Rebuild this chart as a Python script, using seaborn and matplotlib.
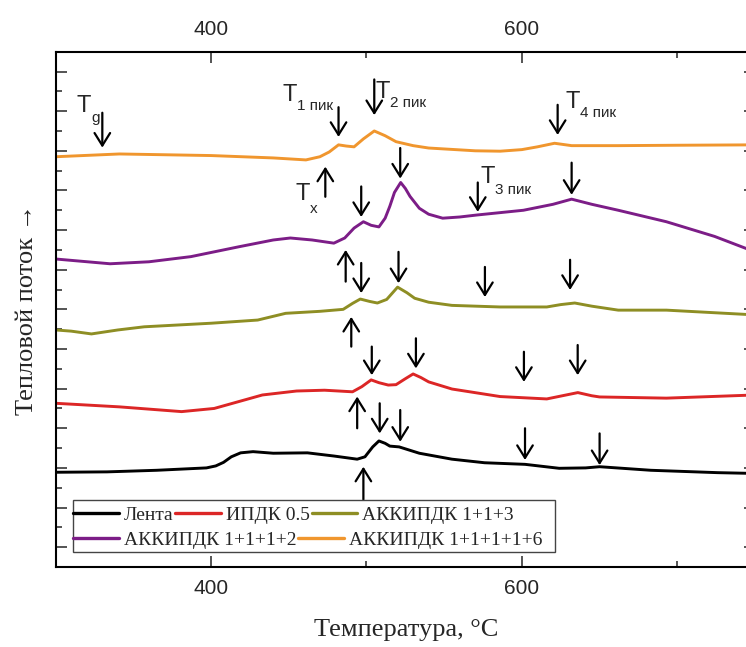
import matplotlib
matplotlib.use("Agg")
import matplotlib.pyplot as plt
import seaborn as sns
import numpy as np
from matplotlib.patches import Rectangle

# ---------------- data ----------------
x_black = [300, 333, 365, 397, 403, 408, 413, 419, 427, 440, 462, 479, 494, 499, 504, 508, 512, 515, 521, 534, 555, 576, 602, 624, 641, 650, 683, 726, 750]
y_black = [2.89, 2.90, 2.94, 3.00, 3.05, 3.14, 3.28, 3.38, 3.41, 3.37, 3.38, 3.30, 3.22, 3.28, 3.53, 3.68, 3.62, 3.55, 3.53, 3.37, 3.22, 3.13, 3.09, 2.99, 3.00, 3.03, 2.94, 2.88, 2.86]

x_red = [300, 341, 381, 402, 433, 455, 473, 491, 497, 503, 508, 514, 519, 525, 530, 535, 540, 555, 586, 616, 626, 636, 645, 650, 693, 750]
y_red = [4.63, 4.54, 4.42, 4.50, 4.84, 4.94, 4.96, 4.92, 5.05, 5.22, 5.15, 5.09, 5.10, 5.25, 5.37, 5.28, 5.17, 4.99, 4.80, 4.74, 4.82, 4.90, 4.82, 4.79, 4.76, 4.84]

x_olive = [300, 310, 323, 340, 357, 400, 430, 448, 470, 485, 491, 496, 502, 507, 513, 520, 526, 531, 540, 555, 586, 616, 625, 634, 645, 662, 693, 750]
y_olive = [6.48, 6.45, 6.38, 6.48, 6.56, 6.65, 6.73, 6.90, 6.95, 7.00, 7.15, 7.26, 7.20, 7.16, 7.25, 7.56, 7.42, 7.28, 7.18, 7.10, 7.06, 7.06, 7.12, 7.16, 7.08, 6.98, 6.98, 6.86]

x_purple = [300, 335, 360, 387, 418, 440, 451, 465, 479, 486, 492, 498, 503, 508, 512, 515, 518, 522, 525, 528, 534, 540, 549, 560, 571, 601, 620, 632, 645, 662, 693, 724, 750]
y_purple = [8.27, 8.15, 8.20, 8.33, 8.58, 8.75, 8.80, 8.75, 8.67, 8.80, 9.05, 9.21, 9.12, 9.08, 9.30, 9.60, 9.95, 10.20, 10.05, 9.85, 9.55, 9.40, 9.30, 9.33, 9.38, 9.50, 9.65, 9.78, 9.65, 9.50, 9.21, 8.84, 8.45]

x_orange = [300, 341, 400, 440, 461, 470, 476, 482, 487, 492, 498, 505, 512, 519, 530, 540, 570, 586, 600, 610, 621, 632, 662, 700, 750]
y_orange = [10.85, 10.92, 10.88, 10.82, 10.77, 10.85, 10.97, 11.15, 11.12, 11.10, 11.30, 11.50, 11.38, 11.23, 11.13, 11.07, 11.00, 10.99, 11.03, 11.10, 11.19, 11.13, 11.13, 11.14, 11.15]

series_names = ["Лента", "ИПДК 0.5", "АККИПДК 1+1+3", "АККИПДК 1+1+1+2", "АККИПДК 1+1+1+1+6"]
series_colors = ["#000000", "#DC2626", "#8E8E24", "#7C1D87", "#F0962E"]

# arrows: x, tail y, head y
arrow_x = [330, 482, 505, 623,
           521.7, 496.6, 571.6, 632,
           496.6, 520.6, 576.2, 631,
           503.4, 531.8, 601.3, 635.9,
           508.5, 521.7, 602, 650,
           473.5, 486.6, 490.2, 494, 498]
arrow_tail = [11.96, 12.10, 12.80, 12.16,
              11.07, 10.10, 10.20, 10.70,
              8.17, 8.45, 8.07, 8.25,
              6.06, 6.27, 5.93, 6.10,
              4.63, 4.46, 4.00, 3.87,
              9.84, 7.70, 6.06, 4.00, 2.20]
arrow_head = [11.08, 11.35, 11.90, 11.40,
              10.30, 9.33, 9.46, 9.89,
              7.41, 7.66, 7.31, 7.49,
              5.34, 5.51, 5.17, 5.34,
              3.87, 3.66, 3.20, 3.07,
              10.60, 8.50, 6.81, 4.80, 3.03]

# labels: T + subscript
label_x = [313.5, 445.9, 505.7, 627.8, 573.1, 454.2]
label_y = [11.99, 12.25, 12.33, 12.07, 10.18, 9.76]
label_sub = ["g", "1 пик", "2 пик", "4 пик", "3 пик", "x"]
label_sub_drop = [10, 9, 9, 9, 11, 13]

x_ticks = [400, 600]
x_minor = [500, 700]

# ---------------- figure ----------------
sns.set_style("ticks")
plt.rcParams["font.family"] = ["Liberation Serif", "DejaVu Serif"]

W, H = 746, 647
fig = plt.figure(figsize=(W / 100, H / 100), dpi=100)
left_px, right_px, top_px, bottom_px = 55.7, 755, 51.7, 567
ax = fig.add_axes([left_px / W, (H - bottom_px) / H, (right_px - left_px) / W, (bottom_px - top_px) / H])

xs = [x_black, x_red, x_olive, x_purple, x_orange]
ys = [y_black, y_red, y_olive, y_purple, y_orange]
for xv, yv, name, col in zip(xs, ys, series_names, series_colors):
    sns.lineplot(x=xv, y=yv, color=col, lw=2.1, ax=ax, label=name, estimator=None, sort=False)

if ax.get_legend() is not None:
    ax.get_legend().remove()

ax.set_xlim(300, 750)
ax.set_ylim(0.5, 13.5)

# ticks
ax.set_xticks(x_ticks)
ax.set_xticks(x_minor, minor=True)
ax.set_yticks(np.arange(1, 14))
ax.set_yticks(np.arange(1.5, 13.5, 1.0), minor=True)
ax.set_yticklabels([])
ax.tick_params(axis="both", which="major", direction="in", length=8, width=1.1,
               top=True, right=True, bottom=True, left=True)
ax.tick_params(axis="both", which="minor", direction="in", length=4.5, width=1.1,
               top=True, right=True, bottom=True, left=True)
ax.tick_params(axis="x", which="major", labeltop=True, labelbottom=True, pad=9,
               labelsize=15)
for t in ax.xaxis.get_major_ticks():
    t.label1.set_family(["Liberation Sans", "DejaVu Sans"])
    t.label2.set_family(["Liberation Sans", "DejaVu Sans"])
for sp in ax.spines.values():
    sp.set_linewidth(1.5)
    sp.set_color("black")

# axis labels
ax.set_xlabel("Температура, °C", fontsize=19, family=["Liberation Serif", "DejaVu Serif"], va="top")
ax.xaxis.set_label_coords(0.501, -0.101)
ax.set_ylabel("Тепловой поток →", fontsize=19, family=["Liberation Serif", "DejaVu Serif"])
ax.yaxis.set_label_coords(-0.026, 0.5)

# arrows
for xa, yt, yh in zip(arrow_x, arrow_tail, arrow_head):
    ax.annotate("", xy=(xa, yh), xytext=(xa, yt),
                arrowprops=dict(arrowstyle="->,head_length=0.45,head_width=0.28",
                                lw=1.6, color="black", shrinkA=0, shrinkB=0,
                                mutation_scale=20))

# labels
for lx, ly, sub, drop in zip(label_x, label_y, label_sub, label_sub_drop):
    ax.text(lx, ly, "T", fontsize=17, family=["Liberation Sans", "DejaVu Sans"],
            ha="left", va="baseline")
    ax.annotate(sub, xy=(lx, ly), xytext=(15, -drop), textcoords="offset pixels",
                fontsize=11, family=["Liberation Sans", "DejaVu Sans"],
                ha="left", va="baseline")

# legend (two rows drawn as two legends inside a frame)
handles = ax.get_lines()[:5]
leg_kw = dict(frameon=False, handlelength=2.35, handletextpad=0.25,
              columnspacing=0.1, borderpad=0, borderaxespad=0,
              prop={"family": ["Liberation Serif", "DejaVu Serif"], "size": 14})
row1 = fig.legend(handles[:3], series_names[:3], ncol=3, loc="center left",
                  bbox_to_anchor=(73 / W, (H - 515) / H), **leg_kw)
row2 = fig.legend(handles[3:], series_names[3:], ncol=2, loc="center left",
                  bbox_to_anchor=(73 / W, (H - 540) / H), **leg_kw)
for lg in (row1, row2):
    for ln in lg.get_lines():
        ln.set_linewidth(2.4)
frame = Rectangle((73 / W, (H - 552) / H), (555 - 73) / W, 52 / H,
                  transform=fig.transFigure, fill=True, facecolor="white",
                  edgecolor="#444444", lw=1.0, zorder=2)
fig.patches.append(frame)
row1.set_zorder(5)
row2.set_zorder(5)

fig.savefig("out.png", dpi=100)
